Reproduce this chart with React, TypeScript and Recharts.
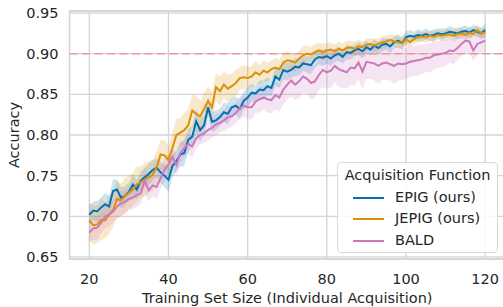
import { Area, CartesianGrid, ComposedChart, Legend, Line, ReferenceArea, ReferenceLine, XAxis, YAxis } from "recharts"

// training set sizes 20..120, one acquisition per step
const trainingSizes = Array.from({ length: 101 }, (_, i) => 20 + i)

const epig = [
  0.702, 0.707, 0.706, 0.711, 0.715, 0.712, 0.731, 0.733, 0.723, 0.725, 0.730, 0.739, 0.733, 0.744, 0.748, 0.752, 0.757, 0.760, 0.754, 0.750, 0.745,
  0.762, 0.768, 0.776, 0.778, 0.794, 0.798, 0.817, 0.806, 0.812, 0.834, 0.816, 0.818, 0.822, 0.828, 0.826, 0.834, 0.836, 0.832, 0.842, 0.846,
  0.852, 0.851, 0.856, 0.855, 0.860, 0.858, 0.872, 0.868, 0.880, 0.878, 0.880, 0.884, 0.883, 0.888, 0.887, 0.886, 0.893, 0.896, 0.895, 0.897,
  0.894, 0.898, 0.900, 0.896, 0.902, 0.901, 0.904, 0.906, 0.903, 0.908, 0.905, 0.910, 0.907, 0.911, 0.912, 0.909, 0.914, 0.916, 0.913, 0.920,
  0.922, 0.921, 0.923, 0.922, 0.924, 0.922, 0.923, 0.925, 0.924, 0.925, 0.927, 0.926, 0.925, 0.927, 0.928, 0.926, 0.929, 0.927, 0.925, 0.929,
]

const jepig = [
  0.695, 0.689, 0.690, 0.696, 0.695, 0.702, 0.708, 0.721, 0.720, 0.725, 0.729, 0.733, 0.739, 0.742, 0.745, 0.748, 0.751, 0.760, 0.776, 0.775, 0.769,
  0.784, 0.800, 0.803, 0.806, 0.812, 0.830, 0.826, 0.823, 0.832, 0.842, 0.834, 0.859, 0.854, 0.862, 0.857, 0.860, 0.864, 0.870, 0.871, 0.870,
  0.872, 0.877, 0.874, 0.879, 0.877, 0.881, 0.883, 0.881, 0.889, 0.892, 0.891, 0.889, 0.894, 0.898, 0.900, 0.899, 0.902, 0.904, 0.902, 0.904,
  0.905, 0.903, 0.906, 0.904, 0.907, 0.908, 0.906, 0.909, 0.908, 0.911, 0.912, 0.910, 0.912, 0.914, 0.915, 0.917, 0.915, 0.914, 0.913, 0.918,
  0.914, 0.918, 0.920, 0.921, 0.920, 0.922, 0.921, 0.923, 0.922, 0.923, 0.924, 0.922, 0.924, 0.925, 0.923, 0.926, 0.924, 0.929, 0.925, 0.926,
]

const bald = [
  0.680, 0.685, 0.686, 0.692, 0.700, 0.702, 0.706, 0.712, 0.716, 0.718, 0.721, 0.723, 0.726, 0.728, 0.744, 0.732, 0.738, 0.736, 0.747, 0.757, 0.764,
  0.773, 0.763, 0.778, 0.784, 0.789, 0.786, 0.796, 0.800, 0.802, 0.806, 0.809, 0.813, 0.815, 0.818, 0.822, 0.823, 0.827, 0.833, 0.836, 0.834,
  0.834, 0.841, 0.844, 0.846, 0.844, 0.843, 0.849, 0.846, 0.856, 0.862, 0.867, 0.862, 0.866, 0.872, 0.869, 0.864, 0.866, 0.874, 0.880, 0.877,
  0.879, 0.885, 0.881, 0.879, 0.877, 0.883, 0.882, 0.889, 0.878, 0.890, 0.889, 0.888, 0.885, 0.888, 0.889, 0.887, 0.885, 0.888, 0.887, 0.888,
  0.890, 0.891, 0.892, 0.893, 0.895, 0.895, 0.898, 0.899, 0.900, 0.901, 0.904, 0.903, 0.907, 0.912, 0.916, 0.915, 0.904, 0.912, 0.914, 0.916,
]

// half-width of the shaded confidence band around each mean
const epigSpread = [
  0.012, 0.011, 0.013, 0.012, 0.014, 0.013, 0.015, 0.012, 0.013, 0.012, 0.011, 0.013, 0.012, 0.011, 0.012, 0.013, 0.012, 0.011, 0.013, 0.014, 0.015,
  0.014, 0.013, 0.015, 0.016, 0.014, 0.013, 0.015, 0.014, 0.013, 0.012, 0.013, 0.012, 0.011, 0.012, 0.013, 0.012, 0.011, 0.012, 0.011, 0.012,
  0.011, 0.010, 0.011, 0.012, 0.011, 0.010, 0.011, 0.010, 0.012, 0.011, 0.010, 0.011, 0.010, 0.009, 0.010, 0.011, 0.010, 0.009, 0.010, 0.009,
  0.009, 0.008, 0.009, 0.008, 0.009, 0.008, 0.007, 0.008, 0.009, 0.008, 0.007, 0.008, 0.007, 0.008, 0.007, 0.008, 0.007, 0.008, 0.007, 0.008,
  0.007, 0.006, 0.007, 0.006, 0.007, 0.006, 0.007, 0.006, 0.007, 0.006, 0.007, 0.006, 0.007, 0.006, 0.007, 0.006, 0.007, 0.006, 0.007, 0.008,
]

const jepigSpread = [
  0.022, 0.024, 0.023, 0.025, 0.022, 0.024, 0.021, 0.023, 0.020, 0.022, 0.021, 0.020, 0.022, 0.019, 0.021, 0.020, 0.019, 0.020, 0.018, 0.019, 0.018,
  0.019, 0.020, 0.018, 0.021, 0.019, 0.020, 0.022, 0.019, 0.020, 0.018, 0.019, 0.017, 0.018, 0.016, 0.017, 0.015, 0.016, 0.014, 0.015, 0.014,
  0.013, 0.014, 0.012, 0.013, 0.012, 0.011, 0.012, 0.011, 0.012, 0.011, 0.010, 0.011, 0.010, 0.011, 0.010, 0.009, 0.010, 0.009, 0.010, 0.009,
  0.009, 0.008, 0.009, 0.008, 0.009, 0.008, 0.009, 0.008, 0.007, 0.008, 0.007, 0.008, 0.007, 0.008, 0.007, 0.007, 0.008, 0.007, 0.008, 0.007,
  0.007, 0.006, 0.007, 0.006, 0.007, 0.006, 0.007, 0.006, 0.006, 0.007, 0.006, 0.007, 0.006, 0.007, 0.006, 0.007, 0.006, 0.007, 0.006, 0.007,
]

const baldSpread = [
  0.013, 0.014, 0.015, 0.013, 0.014, 0.015, 0.013, 0.014, 0.015, 0.014, 0.013, 0.015, 0.014, 0.013, 0.015, 0.014, 0.013, 0.014, 0.013, 0.014, 0.013,
  0.012, 0.013, 0.012, 0.011, 0.012, 0.013, 0.012, 0.011, 0.012, 0.013, 0.012, 0.013, 0.012, 0.013, 0.014, 0.013, 0.012, 0.014, 0.013, 0.014,
  0.015, 0.014, 0.016, 0.015, 0.017, 0.016, 0.018, 0.017, 0.019, 0.018, 0.020, 0.019, 0.021, 0.020, 0.019, 0.021, 0.020, 0.019, 0.021, 0.020,
  0.021, 0.020, 0.022, 0.021, 0.020, 0.022, 0.021, 0.020, 0.022, 0.021, 0.020, 0.021, 0.022, 0.020, 0.021, 0.020, 0.022, 0.021, 0.020, 0.019,
  0.019, 0.018, 0.019, 0.018, 0.017, 0.018, 0.017, 0.016, 0.017, 0.016, 0.015, 0.016, 0.015, 0.014, 0.015, 0.014, 0.013, 0.014, 0.013, 0.014,
]

const xTicks = [20, 40, 60, 80, 100, 120]
const yTicks = [0.65, 0.7, 0.75, 0.8, 0.85, 0.9, 0.95]
const target = 0.9

const series = [
  { key: "epig", name: "EPIG (ours)", color: "#0173b2", mean: epig, spread: epigSpread },
  { key: "jepig", name: "JEPIG (ours)", color: "#de8f05", mean: jepig, spread: jepigSpread },
  { key: "bald", name: "BALD", color: "#cc78bc", mean: bald, spread: baldSpread },
]

const data = trainingSizes.map((n, i) => {
  const row: Record<string, any> = { n }
  for (const s of series) {
    row[s.key] = s.mean[i]
    row[s.key + "Band"] = [s.mean[i] - s.spread[i], s.mean[i] + s.spread[i]]
  }
  return row
})

const font = "'DejaVu Sans', sans-serif"
const fontSize = 14.5
const textColor = "#262626"
const gridColor = "#d4d4d4"

function LegendBox() {
  return (
    <div
      style={{
        position: "relative",
        width: 161,
        height: 91,
        boxSizing: "border-box",
        border: "1px solid #d9d9d9",
        borderRadius: 4,
        background: "rgba(255,255,255,0.85)",
        fontFamily: font,
        fontSize,
        color: textColor,
      }}
    >
      <div style={{ position: "absolute", left: 0, right: 0, top: 3, height: 18, lineHeight: "18px", textAlign: "center", whiteSpace: "nowrap" }}>
        Acquisition Function
      </div>
      {series.map((s, i) => (
        <div key={s.key} style={{ position: "absolute", left: 15, top: 24.5 + i * 21.5, height: 18, lineHeight: "18px", whiteSpace: "nowrap" }}>
          <span style={{ display: "inline-block", width: 31, height: 2, background: s.color, verticalAlign: "middle", marginRight: 11 }} />
          {s.name}
        </div>
      ))}
    </div>
  )
}

export default function App() {
  return (
    <div style={{ position: "absolute", left: 0, top: 0, width: 503, height: 307, overflow: "hidden", background: "#fff", fontFamily: font }}>
      <ComposedChart width={506} height={307} data={data} margin={{ top: 11, right: 1, bottom: 0, left: 0 }}>
        <CartesianGrid stroke={gridColor} strokeWidth={1.3} />
        <ReferenceArea x1={15} x2={125} y1={0.6475} y2={0.9525} fill="none" stroke={gridColor} strokeWidth={1.3} ifOverflow="visible" />
        <XAxis
          dataKey="n"
          type="number"
          domain={[15, 125]}
          ticks={xTicks}
          allowDataOverflow
          height={48}
          axisLine={false}
          tickLine={false}
          tickMargin={8.5}
          tick={{ fill: textColor, fontSize, fontFamily: font }}
          label={{
            content: (props: any) => (
              <text x={props.viewBox.x + props.viewBox.width / 2} y={302.5} textAnchor="middle" fill={textColor} fontSize={fontSize} fontFamily={font}>
                Training Set Size (Individual Acquisition)
              </text>
            ),
          }}
        />
        <YAxis
          type="number"
          domain={[0.6475, 0.9525]}
          ticks={yTicks}
          allowDataOverflow
          width={69.5}
          axisLine={false}
          tickLine={false}
          tickMargin={5}
          tickFormatter={(v: number) => v.toFixed(2)}
          tick={{ fill: textColor, fontSize, fontFamily: font }}
          label={{
            content: () => (
              <text x={18.5} y={135} textAnchor="middle" transform="rotate(-90, 18.5, 135)" fill={textColor} fontSize={fontSize} fontFamily={font}>
                Accuracy
              </text>
            ),
          }}
        />
        <ReferenceLine y={target} stroke="#ec9b9b" strokeWidth={1.5} strokeDasharray="8 4.5" />
        {series.map((s) => (
          <Area
            key={s.key + "Band"}
            dataKey={s.key + "Band"}
            stroke="none"
            fill={s.color}
            fillOpacity={0.2}
            isAnimationActive={false}
            legendType="none"
            activeDot={false}
          />
        ))}
        {series.map((s) => (
          <Line key={s.key} dataKey={s.key} name={s.name} stroke={s.color} strokeWidth={2} dot={false} isAnimationActive={false} />
        ))}
        <Legend
          layout="vertical"
          align="center"
          verticalAlign="middle"
          wrapperStyle={{ left: 337, top: 162, width: 161, height: 91 }}
          content={() => <LegendBox />}
        />
      </ComposedChart>
    </div>
  )
}
